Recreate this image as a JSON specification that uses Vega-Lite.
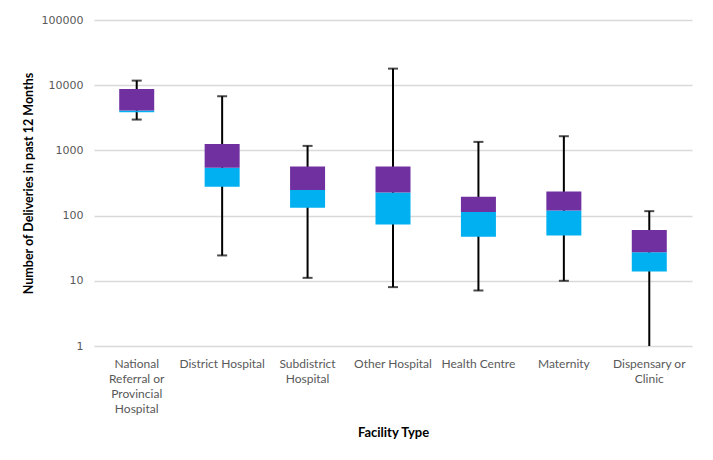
{
  "$schema": "https://vega.github.io/schema/vega-lite/v6.json",
  "autosize": "none",
  "width": 598,
  "height": 326,
  "padding": {"left": 94, "top": 20, "right": 21, "bottom": 114},
  "background": "white",
  "config": {"view": {"stroke": null}},
  "data": {"values": [
    {"facility": "National Referral or Provincial Hospital", "min": 2970, "q1": 3850, "median": 4080, "q3": 8770, "max": 11760},
    {"facility": "District Hospital", "min": 24.5, "q1": 276, "median": 540, "q3": 1259, "max": 6770},
    {"facility": "Subdistrict Hospital", "min": 11.1, "q1": 132, "median": 248, "q3": 566, "max": 1173},
    {"facility": "Other Hospital", "min": 8.0, "q1": 73, "median": 226, "q3": 566, "max": 17960},
    {"facility": "Health Centre", "min": 7.1, "q1": 47.3, "median": 114, "q3": 194, "max": 1351},
    {"facility": "Maternity", "min": 10, "q1": 49.6, "median": 120, "q3": 234, "max": 1650},
    {"facility": "Dispensary or Clinic", "min": 1, "q1": 13.9, "median": 27.5, "q3": 59.9, "max": 117}
  ]},
  "encoding": {
    "x": {
      "field": "facility", "type": "nominal", "sort": null,
      "axis": {
        "title": "Facility  Type",
        "titleFont": "Lato",
        "titleFontSize": 13,
        "titleFontWeight": "bold",
        "titleColor": "#000000",
        "titlePadding": 12,
        "labelAngle": 0,
        "labelFont": "Lato",
        "labelFontSize": 12,
        "labelColor": "#595959",
        "labelLineHeight": 15,
        "labelPadding": 12,
        "labelBaseline": "top",
        "ticks": false,
        "domain": false,
        "labelExpr": "datum.label == 'National Referral or Provincial Hospital' ? ['National','Referral or','Provincial','Hospital'] : datum.label == 'Subdistrict Hospital' ? ['Subdistrict','Hospital'] : datum.label == 'Dispensary or Clinic' ? ['Dispensary or','Clinic'] : datum.label"
      }
    }
  },
  "layer": [
    {
      "mark": {"type": "rule", "color": "#000000", "strokeWidth": 2},
      "encoding": {
        "y": {
          "field": "min", "type": "quantitative",
          "scale": {"type": "log", "domain": [1, 100000], "nice": false},
          "axis": {
            "title": "Number of Deliveries in past  12 Months",
            "titleFont": "Lato",
            "titleFontSize": 12.5,
            "titleFontWeight": "bold",
            "titleColor": "#000000",
            "titlePadding": 6,
            "values": [1, 10, 100, 1000, 10000, 100000],
            "format": "d",
            "labelFont": "DejaVu Sans",
            "labelFontSize": 11,
            "labelColor": "#595959",
            "labelPadding": 11,
            "ticks": false,
            "domain": false,
            "grid": true,
            "gridColor": "#d9d9d9",
            "gridWidth": 1.3
          }
        },
        "y2": {"field": "max"}
      }
    },
    {
      "mark": {"type": "tick", "color": "#000000", "thickness": 2, "size": 10, "orient": "horizontal"},
      "encoding": {"y": {"field": "max", "type": "quantitative"}}
    },
    {
      "transform": [{"filter": "datum.min > 1"}],
      "mark": {"type": "tick", "color": "#000000", "thickness": 2, "size": 10, "orient": "horizontal"},
      "encoding": {"y": {"field": "min", "type": "quantitative"}}
    },
    {
      "mark": {"type": "bar", "color": "#00B0F0", "size": 35},
      "encoding": {"y": {"field": "q1", "type": "quantitative"}, "y2": {"field": "median"}}
    },
    {
      "mark": {"type": "bar", "color": "#7030A0", "size": 35},
      "encoding": {"y": {"field": "median", "type": "quantitative"}, "y2": {"field": "q3"}}
    }
  ]
}
